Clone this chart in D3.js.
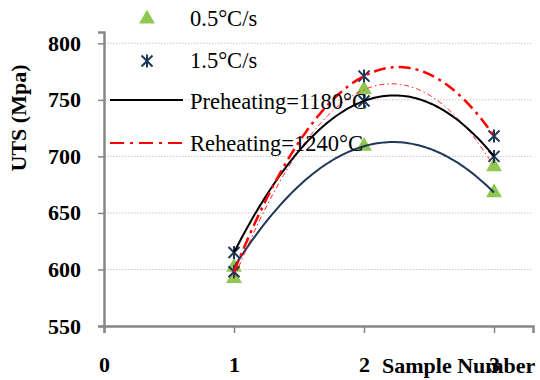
<!DOCTYPE html>
<html>
<head>
<meta charset="utf-8">
<script src="https://cdn.jsdelivr.net/npm/d3@7"></script>
<style>
  body { margin: 0; background: #fff; }
  svg { display: block; }
  svg text { font-family: "Liberation Serif", "Times New Roman", serif; }
</style>
</head>
<body>
<div id="chart-area"></div>
<script>
// sample numbers on the x axis
var samples = [1, 2, 3];
// UTS values (Mpa)
var triUpper = [592, 759, 691];   // 0.5°C/s, thin red trend
var triLower = [602, 709, 668];   // 0.5°C/s, navy trend
var starUpper = [598, 771, 718];  // 1.5°C/s, red dash-dot trend
var starLower = [615, 749, 700];  // 1.5°C/s, black trend
var yTicks = [550, 600, 650, 700, 750, 800];
var xTicks = [0, 1, 2, 3];
var legendLabels = ["0.5°C/s", "1.5°C/s", "Preheating=1180°C", "Reheating=1240°C"];

var width = 540, height = 380;
var svg = d3.select("#chart-area").append("svg")
    .attr("width", width)
    .attr("height", height);

var x = d3.scaleLinear().domain([0, 3.3]).range([104, 533]);
var y = d3.scaleLinear().domain([550, 810]).range([326, 32]);

var axisGrey = "#878787";
var green = "#8fc850";
var navy = "#1f3858";

// gridlines
svg.append("g")
    .selectAll("line")
    .data(yTicks.filter(function(d){ return d > 550; }))
    .enter().append("line")
    .attr("x1", x(0)).attr("x2", x(3.3))
    .attr("y1", function(d){ return y(d); })
    .attr("y2", function(d){ return y(d); })
    .attr("stroke", "#c8c8c8")
    .attr("stroke-width", 1)
    .attr("stroke-dasharray", "1.5,1.5");

// y axis
var yAxis = svg.append("g")
    .attr("transform", "translate(" + x(0) + ",0)")
    .call(d3.axisLeft(y).tickValues(yTicks).tickSize(6).tickPadding(17));
yAxis.select(".domain").attr("stroke", axisGrey).attr("stroke-width", 2.5);
yAxis.selectAll(".tick line").attr("stroke", axisGrey).attr("stroke-width", 1.5);
yAxis.selectAll(".tick text")
    .attr("font-size", 22)
    .attr("font-weight", "bold")
    .attr("fill", "#000");

// x axis
var xAxis = svg.append("g")
    .attr("transform", "translate(0," + y(550) + ")")
    .call(d3.axisBottom(x).tickValues(xTicks).tickSize(7).tickFormat(d3.format("d")));
xAxis.select(".domain").attr("stroke", axisGrey).attr("stroke-width", 2.5);
xAxis.selectAll(".tick line").attr("stroke", axisGrey).attr("stroke-width", 1.5);
xAxis.selectAll(".tick text")
    .attr("y", 46)
    .attr("dy", null)
    .attr("font-size", 22)
    .attr("font-weight", "bold")
    .attr("fill", "#000");

// axis titles
svg.append("text")
    .attr("transform", "translate(26,118) rotate(-90)")
    .attr("text-anchor", "middle")
    .attr("font-size", 22)
    .attr("font-weight", "bold")
    .text("UTS (Mpa)");

svg.append("text")
    .attr("x", 382)
    .attr("y", 373)
    .attr("font-size", 22)
    .attr("font-weight", "bold")
    .text("Sample Number");

// markers
var triangle = d3.symbol().type(d3.symbolTriangle).size(110);
function starPath(s) {
    var h = s / 2;
    return "M" + (-h) + "," + (-h) + "L" + h + "," + h +
        "M" + (-h) + "," + h + "L" + h + "," + (-h) +
        "M0," + (-h - 1) + "L0," + (h + 1);
}

function drawTriangles(vals) {
    svg.append("g").selectAll("path")
        .data(vals)
        .enter().append("path")
        .attr("d", triangle)
        .attr("transform", function(d, i){ return "translate(" + x(samples[i]) + "," + y(d) + ")"; })
        .attr("fill", green);
}
function drawStars(vals) {
    svg.append("g").selectAll("path")
        .data(vals)
        .enter().append("path")
        .attr("d", starPath(11))
        .attr("transform", function(d, i){ return "translate(" + x(samples[i]) + "," + y(d) + ")"; })
        .attr("fill", "none")
        .attr("stroke", navy)
        .attr("stroke-width", 2);
}
drawTriangles(triUpper);
drawTriangles(triLower);
drawStars(starUpper);
drawStars(starLower);

// polynomial (order 2) trendlines through each series
function quadFit(vals) {
    var y1 = vals[0], y2 = vals[1], y3 = vals[2];
    var a = (y1 - 2 * y2 + y3) / 2;
    var b = (y2 - y1) - 3 * a;
    var c = y1 - a - b;
    return function(t){ return a * t * t + b * t + c; };
}
var ts = d3.range(1, 3.0001, 0.02);
var line = d3.line()
    .x(function(d){ return x(d[0]); })
    .y(function(d){ return y(d[1]); });

function drawTrend(vals, color, w, dash) {
    var f = quadFit(vals);
    svg.append("path")
        .attr("d", line(ts.map(function(t){ return [t, f(t)]; })))
        .attr("fill", "none")
        .attr("stroke", color)
        .attr("stroke-width", w)
        .attr("stroke-dasharray", dash);
}
drawTrend(triLower, navy, 2, null);
drawTrend(triUpper, "#ff2020", 1, "5,3,1.5,3");
drawTrend(starLower, "#000", 2, null);
drawTrend(starUpper, "#ff0000", 2.5, "12,5,3,5");

// legend
var leg = svg.append("g");
leg.append("path").attr("d", triangle).attr("transform", "translate(147,19)").attr("fill", green);
leg.append("path").attr("d", starPath(11)).attr("transform", "translate(147,61)")
    .attr("fill", "none").attr("stroke", navy).attr("stroke-width", 2);
leg.append("line").attr("x1", 110).attr("x2", 183).attr("y1", 100).attr("y2", 100)
    .attr("stroke", "#000").attr("stroke-width", 2);
leg.append("line").attr("x1", 110).attr("x2", 183).attr("y1", 143).attr("y2", 143)
    .attr("stroke", "#ff0000").attr("stroke-width", 2).attr("stroke-dasharray", "14,6,3,6");
leg.selectAll("text")
    .data(legendLabels)
    .enter().append("text")
    .attr("x", 190)
    .attr("y", function(d, i){ return [26, 68, 109, 151][i]; })
    .attr("font-size", 22.5)
    .attr("fill", "#000")
    .text(function(d){ return d; });
</script>
</body>
</html>
